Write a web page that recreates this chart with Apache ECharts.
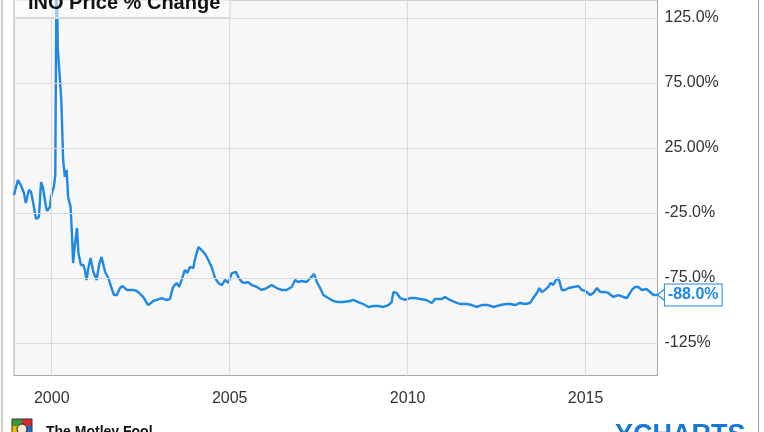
<!DOCTYPE html>
<html>
<head>
<meta charset="utf-8">
<script src="https://cdn.jsdelivr.net/npm/echarts@6/dist/echarts.min.js"></script>
<style>
html,body{margin:0;padding:0;background:#fff;}
#chart{width:764px;height:432px;}
</style>
</head>
<body>
<div id="chart"></div>
<script>
// Decimal-year dates of the INO price series
const years = [1998.94, 1999.05, 1999.13, 1999.22, 1999.27, 1999.36, 1999.42, 1999.50, 1999.56, 1999.64,
  1999.70, 1999.75, 1999.84, 1999.87, 1999.95, 1999.98, 2000.03, 2000.06, 2000.10, 2000.13,
  2000.16, 2000.17, 2000.22, 2000.27, 2000.32, 2000.37, 2000.42, 2000.46, 2000.53, 2000.57,
  2000.60, 2000.65, 2000.71, 2000.75, 2000.82, 2000.89, 2000.93, 2000.98, 2001.03, 2001.09,
  2001.17, 2001.26, 2001.34, 2001.40, 2001.50, 2001.59, 2001.68, 2001.75, 2001.83, 2001.92,
  2001.99, 2002.11, 2002.20, 2002.28, 2002.39, 2002.48, 2002.57, 2002.67, 2002.71, 2002.79,
  2002.85, 2002.95, 2003.09, 2003.15, 2003.23, 2003.32, 2003.41, 2003.51, 2003.58, 2003.65,
  2003.74, 2003.81, 2003.88, 2003.98, 2004.02, 2004.12, 2004.21, 2004.31, 2004.40, 2004.49,
  2004.59, 2004.68, 2004.78, 2004.87, 2004.96, 2005.06, 2005.18, 2005.24, 2005.34, 2005.43,
  2005.51, 2005.62, 2005.76, 2005.90, 2006.04, 2006.18, 2006.32, 2006.46, 2006.60, 2006.74,
  2006.84, 2006.92, 2007.02, 2007.16, 2007.30, 2007.37, 2007.45, 2007.54, 2007.63, 2007.77,
  2007.91, 2008.05, 2008.19, 2008.38, 2008.47, 2008.61, 2008.75, 2008.90, 2009.04, 2009.18,
  2009.32, 2009.46, 2009.55, 2009.60, 2009.69, 2009.79, 2009.93, 2010.07, 2010.21, 2010.35,
  2010.52, 2010.68, 2010.77, 2010.96, 2011.05, 2011.19, 2011.33, 2011.47, 2011.66, 2011.80,
  2011.94, 2012.08, 2012.26, 2012.41, 2012.60, 2012.79, 2012.88, 2013.02, 2013.16, 2013.30,
  2013.44, 2013.53, 2013.63, 2013.70, 2013.77, 2013.86, 2013.95, 2014.02, 2014.09, 2014.17,
  2014.24, 2014.33, 2014.42, 2014.52, 2014.66, 2014.80, 2014.89, 2014.99, 2015.13, 2015.22,
  2015.32, 2015.41, 2015.55, 2015.64, 2015.78, 2015.92, 2016.06, 2016.16, 2016.30, 2016.39,
  2016.48, 2016.58, 2016.72, 2016.81, 2016.91, 2017.02];

// Price % change values
const pctChange = [-11.2, 0.4, -3.5, -9.6, -17.3, -7.3, -8.8, -20.4, -29.6, -28.1,
  -1.2, -5, -20.4, -23.5, -20.4, -12.7, -7.3, -5, 4.2, 142,
  123.5, 101.9, 101.9, 61.9, 15.8, 2.7, 8.1, -12.7, -20.4, -41.9,
  -63.5, -49.6, -36.5, -55.8, -65, -65, -68.8, -76.5, -67.3, -59.6,
  -70.4, -76.5, -63.5, -58.8, -70.4, -75, -82.7, -88.1, -88.1, -82.7,
  -81.2, -84.2, -84.2, -84.2, -85, -87.3, -89.6, -94.2, -95.8, -94.2,
  -92.7, -91.9, -90.4, -91.2, -91.9, -91.2, -81.9, -78.8, -81.9, -76.5,
  -68.8, -71.2, -66.5, -67.3, -61.2, -51.2, -53.5, -56.5, -61.2, -66.5,
  -75, -78.8, -80.4, -76.5, -78.8, -71.2, -70.4, -74.2, -78.1, -78.8,
  -78.1, -80.4, -81.9, -84.2, -82.7, -80.4, -82.7, -84.2, -84.2, -81.9,
  -76.5, -78.1, -77.3, -78.1, -74.2, -71.9, -78.1, -82.7, -88.1, -90.4,
  -92.7, -93.5, -93.5, -92.7, -91.9, -93.5, -95, -97.3, -96.5, -96.5,
  -97.3, -95.8, -93.5, -85.8, -86.5, -90.4, -91.9, -90.4, -90.4, -91.2,
  -91.9, -94.2, -91.2, -91.2, -89.6, -91.9, -93.5, -95, -95, -95.8,
  -97.3, -95.8, -95.8, -97.3, -95.8, -95, -95, -95.8, -94.2, -95,
  -94.2, -90.4, -86.5, -82.7, -85.8, -84.2, -81.9, -78.8, -80.4, -76.5,
  -75, -84.2, -84.2, -82.7, -81.9, -81.2, -84.2, -85, -88.1, -86.5,
  -82.7, -85.8, -85.8, -86.5, -89.6, -88.1, -89.6, -90.4, -84.2, -81.9,
  -81.9, -84.2, -83.5, -85.8, -88.1, -88.0];

// Axis ticks and labels
const xTickValues = [2000, 2005, 2010, 2015];
const xTickLabels = ['2000', '2005', '2010', '2015'];
const yTickValues = [125, 75, 25, -25, -75, -125];
const yTickLabels = ['125.0%', '75.00%', '25.00%', '-25.0%', '-75.0%', '-125%'];

const titleText = 'INO Price % Change';
const BLUE = '#1e88e5';
const GRID = '#dadada';
const FONT = '"Liberation Sans", Arial, sans-serif';

const seriesData = years.map((y, i) => [y, pctChange[i]]);
const lastIdx = years.length - 1;

const chart = echarts.init(document.getElementById('chart'), null, {renderer: 'canvas'});
chart.setOption({
  animation: false,
  backgroundColor: '#ffffff',
  grid: {
    left: 14, right: 106.5, top: 0, bottom: 56.5,
    show: true, backgroundColor: '#f7f7f7', borderColor: '#a8a8a8', borderWidth: 1
  },
  xAxis: {
    type: 'value', min: 1998.94, max: 2017.02,
    axisLine: {show: false},
    axisTick: {show: false, customValues: xTickValues},
    axisLabel: {
      customValues: xTickValues,
      formatter: v => xTickLabels[xTickValues.indexOf(Math.round(v))] || '',
      color: '#333', fontSize: 16, fontFamily: FONT, margin: 15
    },
    splitLine: {show: false}
  },
  yAxis: {
    type: 'value', position: 'right', min: -150, max: 138.85,
    axisLine: {show: false},
    axisTick: {show: false, customValues: yTickValues},
    axisLabel: {
      customValues: yTickValues,
      formatter: v => yTickLabels[yTickValues.indexOf(Math.round(v))] || '',
      color: '#333', fontSize: 16, fontFamily: FONT, margin: 7,
      padding: [3, 0, 0, 0]
    },
    splitLine: {show: false}
  },
  series: [{
    // gridlines at the tick values, drawn through the axes' scales
    type: 'line',
    data: seriesData,
    symbol: 'none',
    lineStyle: {opacity: 0},
    silent: true,
    z: 1,
    markLine: {
      silent: true,
      symbol: ['none', 'none'],
      label: {show: false},
      lineStyle: {color: GRID, width: 1, type: 'solid'},
      emphasis: {disabled: true},
      data: yTickValues.map(v => ({yAxis: v})).concat(xTickValues.map(v => ({xAxis: v})))
    }
  }, {
    type: 'line',
    data: seriesData,
    showSymbol: false,
    symbol: 'none',
    lineStyle: {color: BLUE, width: 2.4},
    itemStyle: {color: BLUE},
    z: 3,
    markPoint: {
      symbol: 'path://M0,6L8,0L8,12Z',
      symbolSize: [8, 13],
      symbolOffset: [4, 0],
      itemStyle: {color: '#ffffff', borderColor: BLUE, borderWidth: 1},
      label: {
        show: true, position: 'right', distance: -1,
        formatter: p => p.value.toFixed(1) + '%',
        color: BLUE, fontWeight: 'bold', fontSize: 16, fontFamily: FONT,
        backgroundColor: '#ffffff', borderColor: BLUE, borderWidth: 1,
        padding: [3, 3, 2, 3]
      },
      data: [{coord: [years[lastIdx], pctChange[lastIdx]], value: pctChange[lastIdx]}]
    }
  }],
  graphic: [
    {type: 'rect', z: 100, shape: {x: 14.5, y: -12, width: 215.5, height: 29.5},
     style: {fill: 'rgba(255,255,255,0.55)', stroke: '#d8d8d8', lineWidth: 1}},
    {type: 'text', z: 101, x: 28, y: 3.5,
     style: {text: titleText, font: 'bold 20px ' + FONT, fill: '#111', verticalAlign: 'middle'}},
    {type: 'line', z: 100, shape: {x1: 2, y1: 0, x2: 2, y2: 432}, style: {stroke: '#9a9a9a', lineWidth: 1}},
    {type: 'line', z: 100, shape: {x1: 758.5, y1: 0, x2: 758.5, y2: 432}, style: {stroke: '#9a9a9a', lineWidth: 1}},
    {type: 'group', z: 100, children: [
      {type: 'rect', shape: {x: 12, y: 419, width: 10, height: 7}, style: {fill: '#3a9a3a'}},
      {type: 'rect', shape: {x: 22, y: 419, width: 10, height: 7}, style: {fill: '#d42a2a'}},
      {type: 'rect', shape: {x: 12, y: 426, width: 10, height: 7}, style: {fill: '#f0c000'}},
      {type: 'rect', shape: {x: 22, y: 426, width: 10, height: 7}, style: {fill: '#1e6fd0'}},
      {type: 'circle', shape: {cx: 22, cy: 429, r: 5}, style: {fill: '#f4e8d0', stroke: '#222', lineWidth: 1}},
      {type: 'rect', shape: {x: 12, y: 419, width: 20, height: 14}, style: {fill: 'none', stroke: '#333', lineWidth: 1}}
    ]},
    {type: 'text', z: 100, x: 46, y: 425,
     style: {text: 'The Motley Fool', font: 'bold 14px ' + FONT, fill: '#111', verticalAlign: 'top'}},
    {type: 'text', z: 100, x: 615, y: 422,
     style: {text: 'YCHARTS', font: 'bold 27px ' + FONT, fill: '#1478d4', verticalAlign: 'top'}}
  ]
});
</script>
</body>
</html>
